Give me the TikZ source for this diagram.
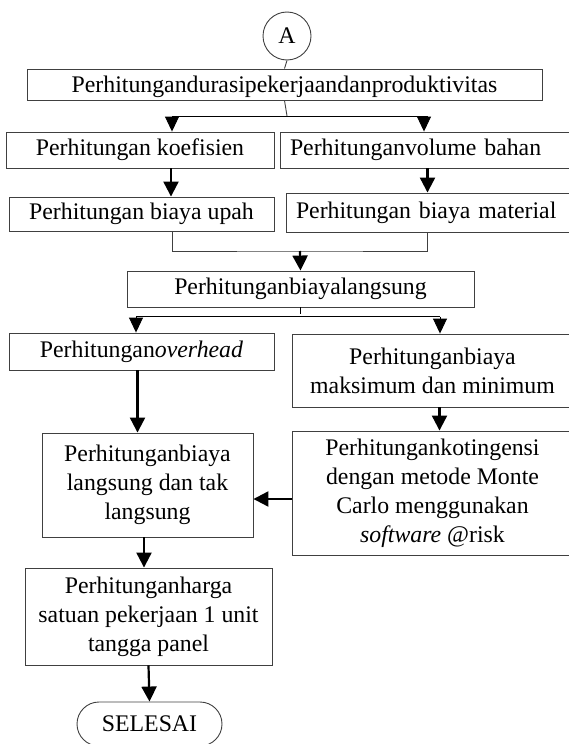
\documentclass[tikz,border=0pt]{standalone}
\usepackage{fontspec}
\setmainfont{Liberation Serif}
\usetikzlibrary{arrows.meta}
\tikzset{
  kotak/.style={draw={rgb, 255:red, 64; green, 64; blue, 64 }, line width=0.9pt, inner sep=0pt, align=center, font=\fontsize{23.8}{29}\selectfont},
  kotakkiri/.style={kotak, align=left, inner xsep=10pt},
  garis/.style={line width=0.9pt},
  panah/.style={line width=2.2pt, -{Triangle[length=15pt,width=15pt]}},
  panahtipis/.style={line width=0.9pt, -{Triangle[length=15pt,width=14pt]}},
}
\begin{document}
\begin{tikzpicture}[x=1pt,y=1pt,yscale=-1,xscale=1]
\useasboundingbox (0,0) rectangle (569,744);

% Connector A
\node[kotak, circle, minimum size=48pt] (A) at (287,36) {A};
% Text Node
\node[kotak, minimum width=515pt, minimum height=31pt, text depth=0pt] (durasi) at (284.5,84.5) {Perhitungandurasipekerjaandanproduktivitas};
% Text Node
\node[kotak, minimum width=268pt, minimum height=36pt] (koefisien) at (140,150) {Perhitungan koefisien};
\node[kotakkiri, text width=273pt, minimum height=36pt] (volume) at (426.5,150) {Perhitunganvolume bahan};
% Text Node
\node[kotak, minimum width=265pt, minimum height=34pt] (upah) at (141.5,214) {Perhitungan biaya upah};
\node[kotakkiri, text width=267pt, minimum height=39pt] (material) at (429.5,212.5) {Perhitungan biaya material};
% Text Node
\node[kotak, minimum width=347pt, minimum height=36pt] (langsung) at (300.5,289) {Perhitunganbiayalangsung};
% Text Node
\node[kotak, minimum width=265pt, minimum height=37pt] (overhead) at (141.5,351.5) {Perhitungan\emph{overhead}};
\node[kotak, minimum width=281pt, minimum height=73pt] (maksmin) at (432.5,370.5) {Perhitunganbiaya\\maksimum dan minimum};
% Text Node
\node[kotak, minimum width=211pt, minimum height=104pt] (tak) at (147.5,485) {Perhitunganbiaya\\langsung dan tak\\langsung};
\node[kotak, minimum width=281pt, minimum height=124pt] (kontingensi) at (432.5,493) {Perhitungankotingensi\\dengan metode Monte\\Carlo menggunakan\\\emph{software} @risk};
% Text Node
\node[kotak, minimum width=247pt, minimum height=97pt] (harga) at (148.5,616.5) {Perhitunganharga\\satuan pekerjaan 1 unit\\tangga panel};
% Terminal
\node[kotak, rounded corners=22pt, minimum width=145pt, minimum height=44pt] (selesai) at (149.5,724) {SELESAI};

% Branch points
\coordinate (pisah1) at (287,116);
\coordinate (kiri1) at (172,116);
\coordinate (kanan1) at (424,116);
\coordinate (gabung) at (300,251);
\coordinate (pisah2) at (300.5,316.7);
\coordinate (kiri2) at (136,316.7);
\coordinate (kanan2) at (440,316.7);

%Straight Lines
\draw[garis, draw={rgb, 255:red, 64; green, 64; blue, 64 }] (A.south) -- (durasi.north);
\draw[garis, draw={rgb, 255:red, 64; green, 64; blue, 64 }] (durasi.south) -- (pisah1);
\draw[garis] (kiri1) -- ([xshift=4]kanan1);
\draw[panahtipis] (kiri1) -- (kiri1 |- koefisien.north);
\draw[panahtipis] (kanan1) -- (kanan1 |- volume.north);
\draw[panah] ([xshift=31]koefisien.south) -- ([xshift=31]koefisien.south |- upah.north);
\draw[panah] ([xshift=1]volume.south) -- ([xshift=1]volume.south |- material.north);
%Straight Lines
\draw[garis, draw={rgb, 255:red, 64; green, 64; blue, 64 }] ([xshift=31]upah.south) |- (gabung) -| ([xshift=-2]material.south);
\draw[panah] (gabung) -- (langsung.north);
\draw[garis] (langsung.south) -- ([yshift=-3]pisah2);
\draw[garis] (kiri2) -- (kanan2);
\draw[panahtipis] (kiri2) -- (kiri2 |- overhead.north);
\draw[panahtipis] (kanan2) -- (kanan2 |- maksmin.north);
%Straight Lines
\draw[panah] ([xshift=-4]overhead.south) -- ([xshift=-4]overhead.south |- tak.north);
\draw[panah] ([xshift=7]maksmin.south) -- ([xshift=7]maksmin.south |- kontingensi.north);
\draw[panah] (kontingensi.west |- 0,499) -- (tak.east |- 0,499);
\draw[panah] ([xshift=-3.5]tak.south) -- ([xshift=-3.5]tak.south |- harga.north);
\draw[panah] (harga.south) -- (selesai.north);

\end{tikzpicture}
\end{document}
